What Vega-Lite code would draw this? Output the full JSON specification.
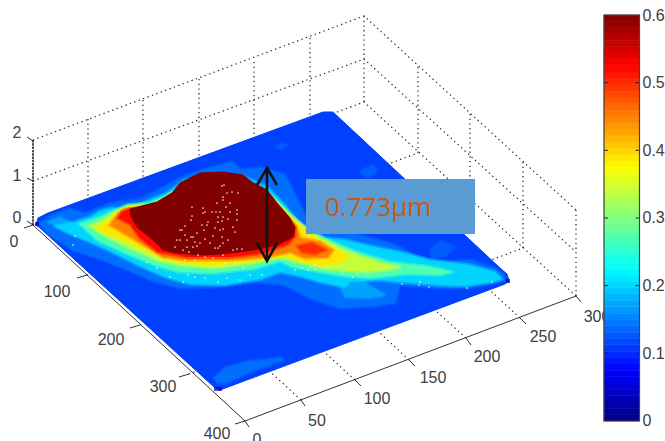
{"$schema":"https://vega.github.io/schema/vega-lite/v6.json","width":665,"height":441,"padding":0,"autosize":{"type":"none"},"background":"white","config":{"view":{"stroke":null}},
"datasets":{
"grid":[{"p":"a","u":88,"v":119},{"p":"a","u":88,"v":205},{"p":"b","u":143,"v":100},{"p":"b","u":143,"v":186},{"p":"c","u":199,"v":79},{"p":"c","u":199,"v":165},{"p":"d","u":254,"v":62},{"p":"d","u":254,"v":147},{"p":"e","u":310,"v":38},{"p":"e","u":310,"v":124},{"p":"f","u":364,"v":16},{"p":"f","u":364,"v":102},{"p":"g","u":418,"v":67},{"p":"g","u":418,"v":153},{"p":"h","u":470,"v":114},{"p":"h","u":470,"v":200},{"p":"i","u":523,"v":162},{"p":"i","u":523,"v":248},{"p":"j","u":576,"v":210},{"p":"j","u":576,"v":296},
{"p":"z2","u":33,"v":140},{"p":"z2","u":364,"v":16},{"p":"z2","u":576,"v":210},{"p":"z1","u":33,"v":181},{"p":"z1","u":364,"v":59},{"p":"z1","u":576,"v":252},{"p":"z0","u":33,"v":225},{"p":"z0","u":364,"v":102},{"p":"z0","u":576,"v":296},
{"p":"k","u":87,"v":275},{"p":"k","u":418,"v":153},{"p":"l","u":140,"v":325},{"p":"l","u":470,"v":200},{"p":"m","u":189,"v":374},{"p":"m","u":523,"v":248},
{"p":"n","u":301,"v":400},{"p":"n","u":88,"v":205},{"p":"o","u":355,"v":380},{"p":"o","u":143,"v":186},{"p":"q","u":409,"v":360},{"p":"q","u":199,"v":165},{"p":"r","u":466,"v":338},{"p":"r","u":254,"v":147},{"p":"s","u":520,"v":318},{"p":"s","u":310,"v":124}],
"axes":[{"p":"xa","u":33,"v":225},{"p":"xa","u":245,"v":421},{"p":"ya","u":245,"v":421},{"p":"ya","u":576,"v":296},
{"p":"t1","u":33,"v":225},{"p":"t1","u":24,"v":228},{"p":"t2","u":87,"v":275},{"p":"t2","u":77,"v":278},{"p":"t3","u":140,"v":325},{"p":"t3","u":130,"v":328},{"p":"t4","u":189,"v":374},{"p":"t4","u":179,"v":377},{"p":"t5","u":245,"v":421},{"p":"t5","u":235,"v":424},
{"p":"y0","u":245,"v":421},{"p":"y0","u":249,"v":427},{"p":"y1","u":301,"v":400},{"p":"y1","u":305,"v":406},{"p":"y2","u":355,"v":380},{"p":"y2","u":361,"v":386},{"p":"y3","u":409,"v":360},{"p":"y3","u":415,"v":366},{"p":"y4","u":466,"v":338},{"p":"y4","u":471,"v":345},{"p":"y5","u":520,"v":318},{"p":"y5","u":526,"v":324},{"p":"y6","u":576,"v":296},{"p":"y6","u":581,"v":302},
{"p":"w0","u":33,"v":141},{"p":"w0","u":27,"v":137},{"p":"w1","u":33,"v":181},{"p":"w1","u":27,"v":178},{"p":"w2","u":33,"v":225},{"p":"w2","u":27,"v":221}],
"zaxis":[{"u":33,"v":140},{"u":33,"v":225}],
"labels":[{"t":"0","u":14,"v":242},{"t":"100","u":57,"v":292},{"t":"200","u":111,"v":340},{"t":"300","u":163,"v":387},{"t":"400","u":217,"v":434},{"t":"0","u":257,"v":440},{"t":"50","u":317,"v":421},{"t":"100","u":377,"v":399},{"t":"150","u":433,"v":378},{"t":"200","u":487,"v":357},{"t":"250","u":543,"v":337},{"t":"300","u":597,"v":317},{"t":"2","u":17,"v":133},{"t":"1","u":17,"v":176},{"t":"0","u":17,"v":218}],
"surface":[
{"p":"base","z":0.1125,"u":36,"v":225},{"p":"base","z":0.1125,"u":38,"v":218},{"p":"base","z":0.1125,"u":48,"v":213},{"p":"base","z":0.1125,"u":323,"v":112},{"p":"base","z":0.1125,"u":333,"v":112},{"p":"base","z":0.1125,"u":500,"v":268},{"p":"base","z":0.1125,"u":507,"v":274},{"p":"base","z":0.1125,"u":509,"v":281},{"p":"base","z":0.1125,"u":505,"v":284},{"p":"base","z":0.1125,"u":220,"v":390},{"p":"base","z":0.1125,"u":214,"v":387},{"p":"base","z":0.1125,"u":40,"v":228},
{"p":"pa","z":0.14,"u":218,"v":383},{"p":"pa","z":0.14,"u":214,"v":378},{"p":"pa","z":0.14,"u":225,"v":368},{"p":"pa","z":0.14,"u":245,"v":362},{"p":"pa","z":0.14,"u":281,"v":358},{"p":"pa","z":0.14,"u":283,"v":360},{"p":"pa","z":0.14,"u":250,"v":372},{"p":"pa","z":0.14,"u":226,"v":383},
{"p":"pb","z":0.13,"u":276,"v":146},{"p":"pb","z":0.13,"u":283,"v":143},{"p":"pb","z":0.13,"u":287,"v":146},{"p":"pb","z":0.13,"u":280,"v":149},
{"p":"pc","z":0.13,"u":430,"v":250},{"p":"pc","z":0.13,"u":442,"v":241},{"p":"pc","z":0.13,"u":455,"v":247},{"p":"pc","z":0.13,"u":445,"v":256},{"p":"pc","z":0.13,"u":432,"v":258},
{"p":"pd","z":0.13,"u":360,"v":172},{"p":"pd","z":0.13,"u":372,"v":165},{"p":"pd","z":0.13,"u":378,"v":170},{"p":"pd","z":0.13,"u":368,"v":178},
{"p":"L1","z":0.14,"u":40,"v":223},{"p":"L1","z":0.14,"u":50,"v":216},{"p":"L1","z":0.14,"u":70,"v":209},{"p":"L1","z":0.14,"u":85,"v":214},{"p":"L1","z":0.14,"u":98,"v":208},{"p":"L1","z":0.14,"u":113,"v":203},{"p":"L1","z":0.14,"u":140,"v":199},{"p":"L1","z":0.14,"u":157,"v":191},{"p":"L1","z":0.14,"u":180,"v":178},{"p":"L1","z":0.14,"u":200,"v":171},{"p":"L1","z":0.14,"u":232,"v":162},{"p":"L1","z":0.14,"u":240,"v":170},{"p":"L1","z":0.14,"u":262,"v":168},{"p":"L1","z":0.14,"u":285,"v":175},{"p":"L1","z":0.14,"u":295,"v":195},{"p":"L1","z":0.14,"u":305,"v":215},{"p":"L1","z":0.14,"u":330,"v":235},{"p":"L1","z":0.14,"u":345,"v":232},{"p":"L1","z":0.14,"u":370,"v":238},{"p":"L1","z":0.14,"u":395,"v":245},{"p":"L1","z":0.14,"u":420,"v":258},{"p":"L1","z":0.14,"u":440,"v":262},{"p":"L1","z":0.14,"u":470,"v":260},{"p":"L1","z":0.14,"u":497,"v":269},{"p":"L1","z":0.14,"u":504,"v":275},{"p":"L1","z":0.14,"u":505,"v":280},{"p":"L1","z":0.14,"u":490,"v":284},{"p":"L1","z":0.14,"u":465,"v":288},{"p":"L1","z":0.14,"u":440,"v":288},{"p":"L1","z":0.14,"u":400,"v":285},{"p":"L1","z":0.14,"u":395,"v":303},{"p":"L1","z":0.14,"u":375,"v":306},{"p":"L1","z":0.14,"u":340,"v":308},{"p":"L1","z":0.14,"u":310,"v":298},{"p":"L1","z":0.14,"u":285,"v":285},{"p":"L1","z":0.14,"u":257,"v":282},{"p":"L1","z":0.14,"u":213,"v":287},{"p":"L1","z":0.14,"u":180,"v":288},{"p":"L1","z":0.14,"u":153,"v":281},{"p":"L1","z":0.14,"u":130,"v":271},{"p":"L1","z":0.14,"u":103,"v":260},{"p":"L1","z":0.14,"u":73,"v":250},{"p":"L1","z":0.14,"u":50,"v":235},{"p":"L1","z":0.14,"u":41,"v":226},
{"p":"L1b","z":0.17,"u":340,"v":285},{"p":"L1b","z":0.17,"u":365,"v":283},{"p":"L1b","z":0.17,"u":385,"v":295},{"p":"L1b","z":0.17,"u":370,"v":298},{"p":"L1b","z":0.17,"u":345,"v":297},
{"p":"L1c","z":0.17,"u":48,"v":222},{"p":"L1c","z":0.17,"u":60,"v":217},{"p":"L1c","z":0.17,"u":70,"v":222},{"p":"L1c","z":0.17,"u":60,"v":228},
{"p":"L2","z":0.2,"u":55,"v":226},{"p":"L2","z":0.2,"u":75,"v":222},{"p":"L2","z":0.2,"u":90,"v":217},{"p":"L2","z":0.2,"u":100,"v":211},{"p":"L2","z":0.2,"u":112,"v":208},{"p":"L2","z":0.2,"u":120,"v":209},{"p":"L2","z":0.2,"u":135,"v":206},{"p":"L2","z":0.2,"u":150,"v":200},{"p":"L2","z":0.2,"u":167,"v":193},{"p":"L2","z":0.2,"u":185,"v":180},{"p":"L2","z":0.2,"u":243,"v":176},{"p":"L2","z":0.2,"u":268,"v":188},{"p":"L2","z":0.2,"u":285,"v":205},{"p":"L2","z":0.2,"u":300,"v":225},{"p":"L2","z":0.2,"u":325,"v":238},{"p":"L2","z":0.2,"u":345,"v":240},{"p":"L2","z":0.2,"u":375,"v":247},{"p":"L2","z":0.2,"u":400,"v":252},{"p":"L2","z":0.2,"u":430,"v":260},{"p":"L2","z":0.2,"u":470,"v":265},{"p":"L2","z":0.2,"u":495,"v":272},{"p":"L2","z":0.2,"u":502,"v":279},{"p":"L2","z":0.2,"u":492,"v":282},{"p":"L2","z":0.2,"u":465,"v":286},{"p":"L2","z":0.2,"u":440,"v":285},{"p":"L2","z":0.2,"u":400,"v":282},{"p":"L2","z":0.2,"u":380,"v":280},{"p":"L2","z":0.2,"u":350,"v":282},{"p":"L2","z":0.2,"u":345,"v":287},{"p":"L2","z":0.2,"u":320,"v":282},{"p":"L2","z":0.2,"u":300,"v":276},{"p":"L2","z":0.2,"u":280,"v":272},{"p":"L2","z":0.2,"u":260,"v":279},{"p":"L2","z":0.2,"u":225,"v":285},{"p":"L2","z":0.2,"u":190,"v":284},{"p":"L2","z":0.2,"u":165,"v":277},{"p":"L2","z":0.2,"u":140,"v":266},{"p":"L2","z":0.2,"u":110,"v":251},{"p":"L2","z":0.2,"u":90,"v":242},{"p":"L2","z":0.2,"u":70,"v":234},
{"p":"L3","z":0.27,"u":80,"v":224},{"p":"L3","z":0.27,"u":100,"v":217},{"p":"L3","z":0.27,"u":113,"v":211},{"p":"L3","z":0.27,"u":127,"v":205},{"p":"L3","z":0.27,"u":150,"v":203},{"p":"L3","z":0.27,"u":165,"v":197},{"p":"L3","z":0.27,"u":177,"v":189},{"p":"L3","z":0.27,"u":190,"v":181},{"p":"L3","z":0.27,"u":243,"v":178},{"p":"L3","z":0.27,"u":267,"v":192},{"p":"L3","z":0.27,"u":290,"v":214},{"p":"L3","z":0.27,"u":310,"v":232},{"p":"L3","z":0.27,"u":340,"v":245},{"p":"L3","z":0.27,"u":357,"v":252},{"p":"L3","z":0.27,"u":390,"v":262},{"p":"L3","z":0.27,"u":425,"v":266},{"p":"L3","z":0.27,"u":440,"v":269},{"p":"L3","z":0.27,"u":452,"v":272},{"p":"L3","z":0.27,"u":440,"v":275},{"p":"L3","z":0.27,"u":407,"v":274},{"p":"L3","z":0.27,"u":370,"v":278},{"p":"L3","z":0.27,"u":345,"v":276},{"p":"L3","z":0.27,"u":320,"v":272},{"p":"L3","z":0.27,"u":293,"v":267},{"p":"L3","z":0.27,"u":280,"v":261},{"p":"L3","z":0.27,"u":253,"v":269},{"p":"L3","z":0.27,"u":213,"v":273},{"p":"L3","z":0.27,"u":180,"v":272},{"p":"L3","z":0.27,"u":157,"v":266},{"p":"L3","z":0.27,"u":130,"v":255},{"p":"L3","z":0.27,"u":97,"v":240},
{"p":"L4","z":0.34,"u":90,"v":226},{"p":"L4","z":0.34,"u":103,"v":220},{"p":"L4","z":0.34,"u":115,"v":212},{"p":"L4","z":0.34,"u":128,"v":206},{"p":"L4","z":0.34,"u":150,"v":205},{"p":"L4","z":0.34,"u":165,"v":198},{"p":"L4","z":0.34,"u":177,"v":190},{"p":"L4","z":0.34,"u":190,"v":182},{"p":"L4","z":0.34,"u":243,"v":179},{"p":"L4","z":0.34,"u":267,"v":193},{"p":"L4","z":0.34,"u":292,"v":217},{"p":"L4","z":0.34,"u":315,"v":235},{"p":"L4","z":0.34,"u":340,"v":248},{"p":"L4","z":0.34,"u":360,"v":256},{"p":"L4","z":0.34,"u":385,"v":264},{"p":"L4","z":0.34,"u":400,"v":267},{"p":"L4","z":0.34,"u":385,"v":270},{"p":"L4","z":0.34,"u":365,"v":272},{"p":"L4","z":0.34,"u":340,"v":270},{"p":"L4","z":0.34,"u":320,"v":268},{"p":"L4","z":0.34,"u":295,"v":261},{"p":"L4","z":0.34,"u":280,"v":257},{"p":"L4","z":0.34,"u":253,"v":263},{"p":"L4","z":0.34,"u":215,"v":268},{"p":"L4","z":0.34,"u":180,"v":265},{"p":"L4","z":0.34,"u":157,"v":260},{"p":"L4","z":0.34,"u":130,"v":248},{"p":"L4","z":0.34,"u":105,"v":236},
{"p":"L5","z":0.39,"u":97,"v":229},{"p":"L5","z":0.39,"u":110,"v":220},{"p":"L5","z":0.39,"u":118,"v":212},{"p":"L5","z":0.39,"u":130,"v":207},{"p":"L5","z":0.39,"u":150,"v":206},{"p":"L5","z":0.39,"u":165,"v":199},{"p":"L5","z":0.39,"u":177,"v":191},{"p":"L5","z":0.39,"u":190,"v":183},{"p":"L5","z":0.39,"u":243,"v":180},{"p":"L5","z":0.39,"u":267,"v":194},{"p":"L5","z":0.39,"u":295,"v":222},{"p":"L5","z":0.39,"u":315,"v":238},{"p":"L5","z":0.39,"u":340,"v":252},{"p":"L5","z":0.39,"u":348,"v":257},{"p":"L5","z":0.39,"u":340,"v":262},{"p":"L5","z":0.39,"u":320,"v":265},{"p":"L5","z":0.39,"u":300,"v":261},{"p":"L5","z":0.39,"u":285,"v":256},{"p":"L5","z":0.39,"u":260,"v":260},{"p":"L5","z":0.39,"u":213,"v":264},{"p":"L5","z":0.39,"u":180,"v":262},{"p":"L5","z":0.39,"u":163,"v":257},{"p":"L5","z":0.39,"u":143,"v":248},{"p":"L5","z":0.39,"u":120,"v":238},
{"p":"L6","z":0.45,"u":110,"v":225},{"p":"L6","z":0.45,"u":118,"v":214},{"p":"L6","z":0.45,"u":125,"v":209},{"p":"L6","z":0.45,"u":150,"v":207},{"p":"L6","z":0.45,"u":165,"v":200},{"p":"L6","z":0.45,"u":177,"v":192},{"p":"L6","z":0.45,"u":190,"v":184},{"p":"L6","z":0.45,"u":243,"v":181},{"p":"L6","z":0.45,"u":267,"v":195},{"p":"L6","z":0.45,"u":296,"v":226},{"p":"L6","z":0.45,"u":300,"v":238},{"p":"L6","z":0.45,"u":320,"v":242},{"p":"L6","z":0.45,"u":333,"v":250},{"p":"L6","z":0.45,"u":328,"v":257},{"p":"L6","z":0.45,"u":305,"v":258},{"p":"L6","z":0.45,"u":290,"v":252},{"p":"L6","z":0.45,"u":267,"v":257},{"p":"L6","z":0.45,"u":230,"v":260},{"p":"L6","z":0.45,"u":187,"v":260},{"p":"L6","z":0.45,"u":163,"v":257},{"p":"L6","z":0.45,"u":147,"v":247},{"p":"L6","z":0.45,"u":127,"v":235},
{"p":"L7","z":0.52,"u":118,"v":218},{"p":"L7","z":0.52,"u":122,"v":212},{"p":"L7","z":0.52,"u":130,"v":209},{"p":"L7","z":0.52,"u":150,"v":208},{"p":"L7","z":0.52,"u":165,"v":201},{"p":"L7","z":0.52,"u":177,"v":193},{"p":"L7","z":0.52,"u":190,"v":185},{"p":"L7","z":0.52,"u":243,"v":182},{"p":"L7","z":0.52,"u":267,"v":196},{"p":"L7","z":0.52,"u":295,"v":227},{"p":"L7","z":0.52,"u":295,"v":236},{"p":"L7","z":0.52,"u":288,"v":244},{"p":"L7","z":0.52,"u":263,"v":253},{"p":"L7","z":0.52,"u":230,"v":257},{"p":"L7","z":0.52,"u":187,"v":257},{"p":"L7","z":0.52,"u":158,"v":252},{"p":"L7","z":0.52,"u":140,"v":238},{"p":"L7","z":0.52,"u":130,"v":224},
{"p":"L7b","z":0.5,"u":297,"v":246},{"p":"L7b","z":0.5,"u":312,"v":243},{"p":"L7b","z":0.5,"u":326,"v":250},{"p":"L7b","z":0.5,"u":315,"v":254},{"p":"L7b","z":0.5,"u":302,"v":252},
{"p":"dome","z":0.6,"u":130,"v":209},{"p":"dome","z":0.6,"u":157,"v":202},{"p":"dome","z":0.6,"u":172,"v":193},{"p":"dome","z":0.6,"u":180,"v":183},{"p":"dome","z":0.6,"u":190,"v":178},{"p":"dome","z":0.6,"u":200,"v":173},{"p":"dome","z":0.6,"u":223,"v":172},{"p":"dome","z":0.6,"u":243,"v":175},{"p":"dome","z":0.6,"u":252,"v":182},{"p":"dome","z":0.6,"u":267,"v":190},{"p":"dome","z":0.6,"u":277,"v":203},{"p":"dome","z":0.6,"u":290,"v":218},{"p":"dome","z":0.6,"u":295,"v":228},{"p":"dome","z":0.6,"u":293,"v":237},{"p":"dome","z":0.6,"u":277,"v":245},{"p":"dome","z":0.6,"u":253,"v":250},{"p":"dome","z":0.6,"u":223,"v":254},{"p":"dome","z":0.6,"u":200,"v":255},{"p":"dome","z":0.6,"u":177,"v":253},{"p":"dome","z":0.6,"u":163,"v":250},{"p":"dome","z":0.6,"u":153,"v":240},{"p":"dome","z":0.6,"u":137,"v":227},{"p":"dome","z":0.6,"u":131,"v":216}],
"specks":[{"u":222,"v":186},{"u":224,"v":185},{"u":227,"v":193},{"u":232,"v":192},{"u":238,"v":193},{"u":223,"v":197},{"u":223,"v":200},{"u":230,"v":203},{"u":217,"v":203},{"u":192,"v":207},{"u":203,"v":208},{"u":205,"v":212},{"u":203,"v":213},{"u":212,"v":212},{"u":216,"v":212},{"u":220,"v":212},{"u":226,"v":207},{"u":230,"v":212},{"u":237,"v":210},{"u":237,"v":214},{"u":228,"v":219},{"u":218,"v":217},{"u":223,"v":217},{"u":192,"v":216},{"u":191,"v":220},{"u":218,"v":222},{"u":222,"v":221},{"u":237,"v":220},{"u":202,"v":225},{"u":208,"v":222},{"u":207,"v":225},{"u":185,"v":226},{"u":215,"v":228},{"u":220,"v":230},{"u":223,"v":229},{"u":233,"v":227},{"u":235,"v":232},{"u":213,"v":236},{"u":222,"v":237},{"u":228,"v":240},{"u":204,"v":230},{"u":197,"v":233},{"u":193,"v":237},{"u":191,"v":237},{"u":182,"v":230},{"u":185,"v":235},{"u":187,"v":240},{"u":180,"v":240},{"u":195,"v":242},{"u":200,"v":243},{"u":205,"v":239},{"u":210,"v":243},{"u":215,"v":248},{"u":220,"v":246},{"u":223,"v":243},{"u":233,"v":250},{"u":237,"v":249},{"u":242,"v":249},{"u":223,"v":255},{"u":218,"v":248},{"u":197,"v":246},{"u":193,"v":247},{"u":187,"v":247},{"u":183,"v":250},{"u":189,"v":252},{"u":198,"v":255},{"u":205,"v":257},{"u":213,"v":258},{"u":185,"v":260},{"u":195,"v":260},{"u":225,"v":263},{"u":235,"v":263},{"u":243,"v":267},{"u":262,"v":275},{"u":250,"v":275},{"u":240,"v":280},{"u":227,"v":278},{"u":205,"v":278},{"u":188,"v":275},{"u":218,"v":282},{"u":195,"v":277},{"u":180,"v":230},{"u":177,"v":240},{"u":175,"v":247},{"u":75,"v":236},{"u":73,"v":245},{"u":170,"v":277},{"u":157,"v":268},{"u":147,"v":262},{"u":183,"v":282},{"u":295,"v":270},{"u":302,"v":268},{"u":308,"v":270},{"u":315,"v":269},{"u":310,"v":267},{"u":326,"v":267},{"u":316,"v":265},{"u":343,"v":272},{"u":353,"v":277},{"u":358,"v":274},{"u":402,"v":284},{"u":420,"v":282},{"u":419,"v":285},{"u":429,"v":287},{"u":467,"v":288},{"u":492,"v":282}],
"corners":[{"z":0.02,"u":37,"v":224},{"z":0.02,"u":216,"v":389},{"z":0.03,"u":220,"v":389},{"z":0.02,"u":508,"v":281}],
"arrow":[{"p":"shaft","u":267,"v":168},{"p":"shaft","u":267,"v":261},{"p":"top","u":257,"v":185},{"p":"top","u":267,"v":168},{"p":"top","u":277,"v":185},{"p":"bot","u":257,"v":243},{"p":"bot","u":267,"v":261},{"p":"bot","u":277,"v":243}],
"note":[{"t":"0.773μm","u":306,"u2":475,"v":179,"v2":234,"tu":325,"tv":208}],
"bar":[{"lo":0,"hi":0.0094,"z":0.0047},{"lo":0.0094,"hi":0.0188,"z":0.0141},{"lo":0.0188,"hi":0.0281,"z":0.0234},{"lo":0.0281,"hi":0.0375,"z":0.0328},{"lo":0.0375,"hi":0.0469,"z":0.0422},{"lo":0.0469,"hi":0.0563,"z":0.0516},{"lo":0.0563,"hi":0.0656,"z":0.0609},{"lo":0.0656,"hi":0.075,"z":0.0703},{"lo":0.075,"hi":0.0844,"z":0.0797},{"lo":0.0844,"hi":0.0938,"z":0.0891},{"lo":0.0938,"hi":0.1031,"z":0.0984},{"lo":0.1031,"hi":0.1125,"z":0.1078},{"lo":0.1125,"hi":0.1219,"z":0.1172},{"lo":0.1219,"hi":0.1313,"z":0.1266},{"lo":0.1313,"hi":0.1406,"z":0.1359},{"lo":0.1406,"hi":0.15,"z":0.1453},{"lo":0.15,"hi":0.1594,"z":0.1547},{"lo":0.1594,"hi":0.1688,"z":0.1641},{"lo":0.1688,"hi":0.1781,"z":0.1734},{"lo":0.1781,"hi":0.1875,"z":0.1828},{"lo":0.1875,"hi":0.1969,"z":0.1922},{"lo":0.1969,"hi":0.2063,"z":0.2016},{"lo":0.2063,"hi":0.2156,"z":0.2109},{"lo":0.2156,"hi":0.225,"z":0.2203},{"lo":0.225,"hi":0.2344,"z":0.2297},{"lo":0.2344,"hi":0.2438,"z":0.2391},{"lo":0.2438,"hi":0.2531,"z":0.2484},{"lo":0.2531,"hi":0.2625,"z":0.2578},{"lo":0.2625,"hi":0.2719,"z":0.2672},{"lo":0.2719,"hi":0.2813,"z":0.2766},{"lo":0.2813,"hi":0.2906,"z":0.2859},{"lo":0.2906,"hi":0.3,"z":0.2953},{"lo":0.3,"hi":0.3094,"z":0.3047},{"lo":0.3094,"hi":0.3188,"z":0.3141},{"lo":0.3188,"hi":0.3281,"z":0.3234},{"lo":0.3281,"hi":0.3375,"z":0.3328},{"lo":0.3375,"hi":0.3469,"z":0.3422},{"lo":0.3469,"hi":0.3563,"z":0.3516},{"lo":0.3563,"hi":0.3656,"z":0.3609},{"lo":0.3656,"hi":0.375,"z":0.3703},{"lo":0.375,"hi":0.3844,"z":0.3797},{"lo":0.3844,"hi":0.3938,"z":0.3891},{"lo":0.3938,"hi":0.4031,"z":0.3984},{"lo":0.4031,"hi":0.4125,"z":0.4078},{"lo":0.4125,"hi":0.4219,"z":0.4172},{"lo":0.4219,"hi":0.4313,"z":0.4266},{"lo":0.4313,"hi":0.4406,"z":0.4359},{"lo":0.4406,"hi":0.45,"z":0.4453},{"lo":0.45,"hi":0.4594,"z":0.4547},{"lo":0.4594,"hi":0.4688,"z":0.4641},{"lo":0.4688,"hi":0.4781,"z":0.4734},{"lo":0.4781,"hi":0.4875,"z":0.4828},{"lo":0.4875,"hi":0.4969,"z":0.4922},{"lo":0.4969,"hi":0.5063,"z":0.5016},{"lo":0.5063,"hi":0.5156,"z":0.5109},{"lo":0.5156,"hi":0.525,"z":0.5203},{"lo":0.525,"hi":0.5344,"z":0.5297},{"lo":0.5344,"hi":0.5438,"z":0.5391},{"lo":0.5438,"hi":0.5531,"z":0.5484},{"lo":0.5531,"hi":0.5625,"z":0.5578},{"lo":0.5625,"hi":0.5719,"z":0.5672},{"lo":0.5719,"hi":0.5813,"z":0.5766},{"lo":0.5813,"hi":0.5906,"z":0.5859},{"lo":0.5906,"hi":0.6,"z":0.5953}],
"barframe":[{"lo":0,"hi":0.6}],
"barticks":[{"z":0.1},{"z":0.2},{"z":0.3},{"z":0.4},{"z":0.5}]
},
"resolve":{"scale":{"y":"independent"},"axis":{"y":"independent"}},
"layer":[
{"layer":[
{"data":{"name":"grid"},"mark":{"type":"line","stroke":"#222222","strokeWidth":1.2,"strokeDash":[1.3,3.4]},"encoding":{"x":{"field":"u","type":"quantitative","scale":{"domain":[0,665],"nice":false,"zero":false},"axis":null},"y":{"field":"v","type":"quantitative","scale":{"domain":[441,0],"nice":false,"zero":false},"axis":null},"detail":{"field":"p"},"order":{"value":null}}},
{"data":{"name":"axes"},"mark":{"type":"line","stroke":"#333333","strokeWidth":1},"encoding":{"x":{"field":"u","type":"quantitative"},"y":{"field":"v","type":"quantitative"},"detail":{"field":"p"},"order":{"value":null}}},
{"data":{"name":"zaxis"},"mark":{"type":"line","stroke":"#222222","strokeWidth":1.6,"strokeDash":[2.5,0.8]},"encoding":{"x":{"field":"u","type":"quantitative"},"y":{"field":"v","type":"quantitative"},"order":{"value":null}}},
{"data":{"name":"labels"},"mark":{"type":"text","font":"Liberation Sans","fontSize":16,"fill":"#404040","align":"center","baseline":"middle"},"encoding":{"x":{"field":"u","type":"quantitative"},"y":{"field":"v","type":"quantitative"},"text":{"field":"t"}}},
{"data":{"name":"surface"},"transform":[{"filter":"datum.p === 'base'"}],"mark":{"type":"line","interpolate":"linear-closed","strokeWidth":1,"strokeJoin":"round"},"encoding":{"x":{"field":"u","type":"quantitative"},"y":{"field":"v","type":"quantitative"},"detail":{"field":"p"},"order":{"value":null},"fill":{"field":"z","type":"quantitative","scale":{"domain":[0,0.075,0.225,0.375,0.525,0.6],"range":["#000080","#0000ff","#00ffff","#ffff00","#ff0000","#800000"],"interpolate":"rgb"},"legend":null},"stroke":{"field":"z","type":"quantitative","scale":{"domain":[0,0.075,0.225,0.375,0.525,0.6],"range":["#000080","#0000ff","#00ffff","#ffff00","#ff0000","#800000"],"interpolate":"rgb"},"legend":null}}},
{"data":{"name":"surface"},"transform":[{"filter":"datum.p !== 'base' && datum.p !== 'dome'"}],"mark":{"type":"line","interpolate":"linear-closed","strokeWidth":3.5,"strokeOpacity":0.5,"strokeJoin":"round"},"encoding":{"x":{"field":"u","type":"quantitative"},"y":{"field":"v","type":"quantitative"},"detail":{"field":"p"},"order":{"value":null},"fill":{"field":"z","type":"quantitative","legend":null},"stroke":{"field":"z","type":"quantitative","legend":null}}},
{"data":{"name":"surface"},"transform":[{"filter":"datum.p === 'dome'"}],"mark":{"type":"line","interpolate":"linear-closed","strokeWidth":1,"strokeJoin":"round"},"encoding":{"x":{"field":"u","type":"quantitative"},"y":{"field":"v","type":"quantitative"},"detail":{"field":"p"},"order":{"value":null},"fill":{"field":"z","type":"quantitative","legend":null},"stroke":{"field":"z","type":"quantitative","legend":null}}},
{"data":{"name":"corners"},"mark":{"type":"square","size":16,"filled":true},"encoding":{"x":{"field":"u","type":"quantitative"},"y":{"field":"v","type":"quantitative"},"fill":{"field":"z","type":"quantitative","legend":null}}},
{"data":{"name":"specks"},"mark":{"type":"circle","size":3,"fill":"#f0f0f0","opacity":0.95},"encoding":{"x":{"field":"u","type":"quantitative"},"y":{"field":"v","type":"quantitative"}}},
{"data":{"name":"arrow"},"mark":{"type":"line","stroke":"#111111","strokeWidth":2.6},"encoding":{"x":{"field":"u","type":"quantitative"},"y":{"field":"v","type":"quantitative"},"detail":{"field":"p"},"order":{"value":null}}},
{"data":{"name":"note"},"mark":{"type":"rect","fill":"#5b9bd5"},"encoding":{"x":{"field":"u","type":"quantitative"},"x2":{"field":"u2"},"y":{"field":"v","type":"quantitative"},"y2":{"field":"v2"}}},
{"data":{"name":"note"},"mark":{"type":"text","font":"Open Sans","fontSize":26,"fill":"#c55a11","align":"left","baseline":"middle"},"encoding":{"x":{"field":"tu","type":"quantitative"},"y":{"field":"tv","type":"quantitative"},"text":{"field":"t"}}}
]},
{"layer":[
{"data":{"name":"bar"},"mark":{"type":"rect","strokeWidth":0.6},"encoding":{"x":{"datum":604,"type":"quantitative"},"x2":{"datum":639.5},"y":{"field":"lo","type":"quantitative","scale":{"domain":[-0.02956,0.62217],"nice":false,"zero":false},"axis":{"orient":"right","offset":-25.5,"values":[0,0.1,0.2,0.3,0.4,0.5,0.6],"format":"~g","title":null,"domain":false,"ticks":false,"grid":false,"labelPadding":2.5,"labelFont":"Liberation Sans","labelFontSize":16,"labelColor":"#404040","labelFlush":false}},"y2":{"field":"hi"},"fill":{"field":"z","type":"quantitative","legend":null},"stroke":{"field":"z","type":"quantitative","legend":null}}},
{"data":{"name":"barticks"},"mark":{"type":"rule","stroke":"#222222","strokeWidth":1},"encoding":{"x":{"datum":604,"type":"quantitative"},"x2":{"datum":608},"y":{"field":"z","type":"quantitative"}}},
{"data":{"name":"barticks"},"mark":{"type":"rule","stroke":"#222222","strokeWidth":1},"encoding":{"x":{"datum":635.5,"type":"quantitative"},"x2":{"datum":639.5},"y":{"field":"z","type":"quantitative"}}},
{"data":{"name":"barframe"},"mark":{"type":"rect","fillOpacity":0,"stroke":"#444444","strokeWidth":1.2},"encoding":{"x":{"datum":604,"type":"quantitative"},"x2":{"datum":639.5},"y":{"field":"lo","type":"quantitative"},"y2":{"field":"hi"}}}
]}
]}
